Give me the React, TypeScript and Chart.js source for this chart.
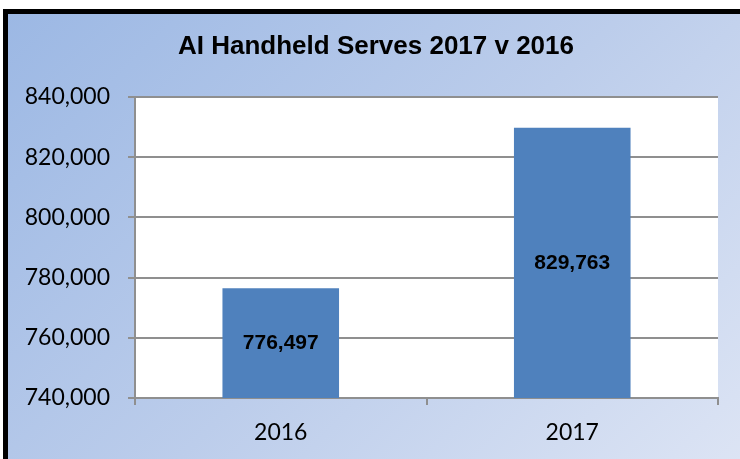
import React, { useEffect, useRef, useState } from "react";
import { Chart, registerables } from "chart.js";

Chart.register(...registerables);

const categories: string[] = ["2016", "2017"];
const serves: number[] = [776497, 829763];
const yMin = 740000;
const yMax = 840000;
const yStep = 20000;
const titleText = "AI Handheld Serves 2017 v 2016";

const fmt = (v: number) => Number(v).toLocaleString("en-US");

const decor = {
  id: "decor",
  afterDraw(chart: any) {
    const ctx = chart.ctx;
    const xs = chart.scales.x;
    const ys = chart.scales.y;
    ctx.save();
    ctx.fillStyle = "#000000";
    ctx.textAlign = "center";
    ctx.textBaseline = "middle";
    ctx.font = "bold 26px 'Liberation Sans', Arial, sans-serif";
    ctx.fillText(titleText, 376, 47);
    ctx.font = "bold 21px 'Liberation Sans', Arial, sans-serif";
    serves.forEach((v, i) => {
      const x = xs.getPixelForValue(i);
      const yTop = ys.getPixelForValue(v);
      const yBase = ys.getPixelForValue(yMin);
      ctx.fillText(fmt(v), x, (yTop + yBase) / 2);
    });
    ctx.restore();
  },
};

type Area = { left: number; top: number; width: number; height: number } | null;

export default function App() {
  const ref = useRef<HTMLCanvasElement>(null);
  const [area, setArea] = useState<Area>(null);
  useEffect(() => {
    if (!ref.current) return;
    const chart = new Chart(ref.current, {
      type: "bar",
      data: {
        labels: categories,
        datasets: [
          {
            data: serves,
            backgroundColor: "#4F81BD",
            borderWidth: 0,
            barPercentage: 0.4,
            categoryPercentage: 1,
          },
        ],
      },
      options: {
        responsive: false,
        animation: false,
        layout: { padding: { left: 0, right: 22, top: 97, bottom: 0 } },
        plugins: {
          legend: { display: false },
          tooltip: { enabled: false },
          title: { display: false },
        },
        scales: {
          x: {
            offset: true,
            grid: {
              offset: true,
              drawOnChartArea: false,
              drawTicks: true,
              tickLength: 7,
              color: "#8f8f8f",
              lineWidth: 2,
            },
            border: { color: "#8f8f8f", width: 2 },
            ticks: {
              color: "#000",
              font: { family: "Lato, 'Open Sans', sans-serif", size: 23 },
              padding: 14,
            },
            afterFit: (s: any) => {
              s.height = 61;
            },
          },
          y: {
            min: yMin,
            max: yMax,
            grid: {
              color: "#8f8f8f",
              lineWidth: 2,
              tickLength: 7,
            },
            border: { color: "#8f8f8f", width: 2 },
            ticks: {
              stepSize: yStep,
              color: "#000",
              font: { family: "Lato, 'Open Sans', sans-serif", size: 23 },
              padding: 18,
              callback: (v: any) => fmt(v),
            },
            afterFit: (s: any) => {
              s.width = 135;
            },
          },
        },
      },
      plugins: [decor],
    });
    const ca = chart.chartArea;
    setArea({ left: ca.left, top: ca.top, width: ca.right - ca.left, height: ca.bottom - ca.top });
    return () => chart.destroy();
  }, []);

  return (
    <div
      style={{
        position: "fixed",
        left: 0,
        top: 0,
        width: 740,
        height: 459,
        overflow: "hidden",
        background: "#fff",
      }}
    >
      <div
        style={{
          position: "absolute",
          left: 3,
          top: 9,
          width: 760,
          height: 470,
          borderLeft: "5px solid #000",
          borderTop: "5px solid #000",
          background: "linear-gradient(135deg, #9CB8E4 0%, #BCCDEB 50%, #DFE6F5 100%)",
        }}
      />
      {area && (
        <div
          style={{
            position: "absolute",
            left: area.left,
            top: area.top,
            width: area.width,
            height: area.height,
            background: "#ffffff",
          }}
        />
      )}
      <canvas
        ref={ref}
        width={740}
        height={459}
        style={{ position: "absolute", left: 0, top: 0, width: 740, height: 459 }}
      />
    </div>
  );
}
